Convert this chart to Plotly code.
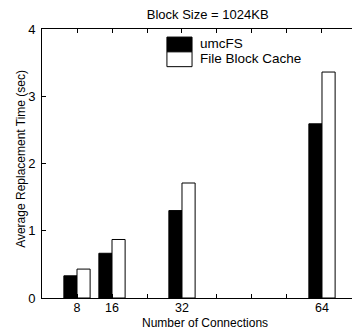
import plotly.graph_objects as go

# Number of connections and average replacement time (sec), block size 1024KB
connections = [8, 16, 32, 64]
umcfs_time = [0.33, 0.665, 1.30, 2.59]
cache_time = [0.43, 0.87, 1.71, 3.36]
series_names = ["umcFS", "File Block Cache"]
series_colors = ["#000000", "#ffffff"]

x_tickvals = [8, 16, 24, 32, 40, 48, 56, 64]
x_ticktext = ["8", "16", "", "32", "", "", "", "64"]
y_tickvals = [0, 1, 2, 3, 4]

FONT = "Liberation Sans, Arial, sans-serif"

fig = go.Figure()
for name, vals, col, off in zip(series_names, [umcfs_time, cache_time], series_colors, [-3.0, 0.0]):
    fig.add_trace(go.Bar(
        x=connections, y=vals, name=name, width=3.0, offset=off,
        marker=dict(color=col, line=dict(color="#000000", width=1)),
        showlegend=False,
    ))

# legend drawn as swatches plus labels
sw_x0, sw_x1 = 0.403, 0.484
sw_top, sw_h = 0.970, 0.055
for i, (name, col) in enumerate(zip(series_names, series_colors)):
    y1 = sw_top - i * sw_h
    fig.add_shape(type="rect", xref="paper", yref="paper",
                  x0=sw_x0, x1=sw_x1, y0=y1 - sw_h, y1=y1,
                  fillcolor=col, line=dict(color="#000000", width=1))
    fig.add_annotation(xref="paper", yref="paper", x=sw_x1 + 0.018, y=y1 - sw_h / 2 + 0.004,
                       text=name, showarrow=False, xanchor="left", yanchor="middle",
                       font=dict(family=FONT, size=13.5, color="#000000"))

# axis titles
fig.add_annotation(xref="paper", yref="paper", x=0.525, y=-0.094,
                   text="Number of Connections", showarrow=False,
                   xanchor="center", yanchor="middle", borderpad=0,
                   font=dict(family=FONT, size=12, color="#000000"))
fig.add_annotation(xref="paper", yref="paper", x=-0.068, y=0.517,
                   text="Average Replacement Time (sec)", showarrow=False, textangle=-90,
                   xanchor="center", yanchor="middle",
                   font=dict(family=FONT, size=12, color="#000000"))

fig.update_layout(
    width=352, height=331,
    margin=dict(l=42, r=0, t=29, b=33),
    paper_bgcolor="white", plot_bgcolor="white",
    barmode="overlay",
    font=dict(family=FONT, size=12, color="#000000"),
    title=dict(text="Block Size = 1024KB", x=0.59, xanchor="center", y=0.955, yanchor="middle",
               font=dict(family=FONT, size=13, color="#000000")),
    xaxis=dict(range=[0, 70.86], tickvals=x_tickvals, ticktext=x_ticktext,
               ticks="inside", ticklen=4, tickcolor="#000000",
               showline=True, linecolor="#000000", linewidth=1, mirror="ticks",
               showgrid=False, zeroline=False, ticklabelstandoff=-2,
               tickfont=dict(family=FONT, size=12.5)),
    yaxis=dict(range=[0, 4], tickvals=y_tickvals,
               ticks="inside", ticklen=4, tickcolor="#000000",
               showline=True, linecolor="#000000", linewidth=1,
               showgrid=False, zeroline=False, ticklabelstandoff=3,
               tickfont=dict(family=FONT, size=13)),
)

fig.write_html("out.html")
